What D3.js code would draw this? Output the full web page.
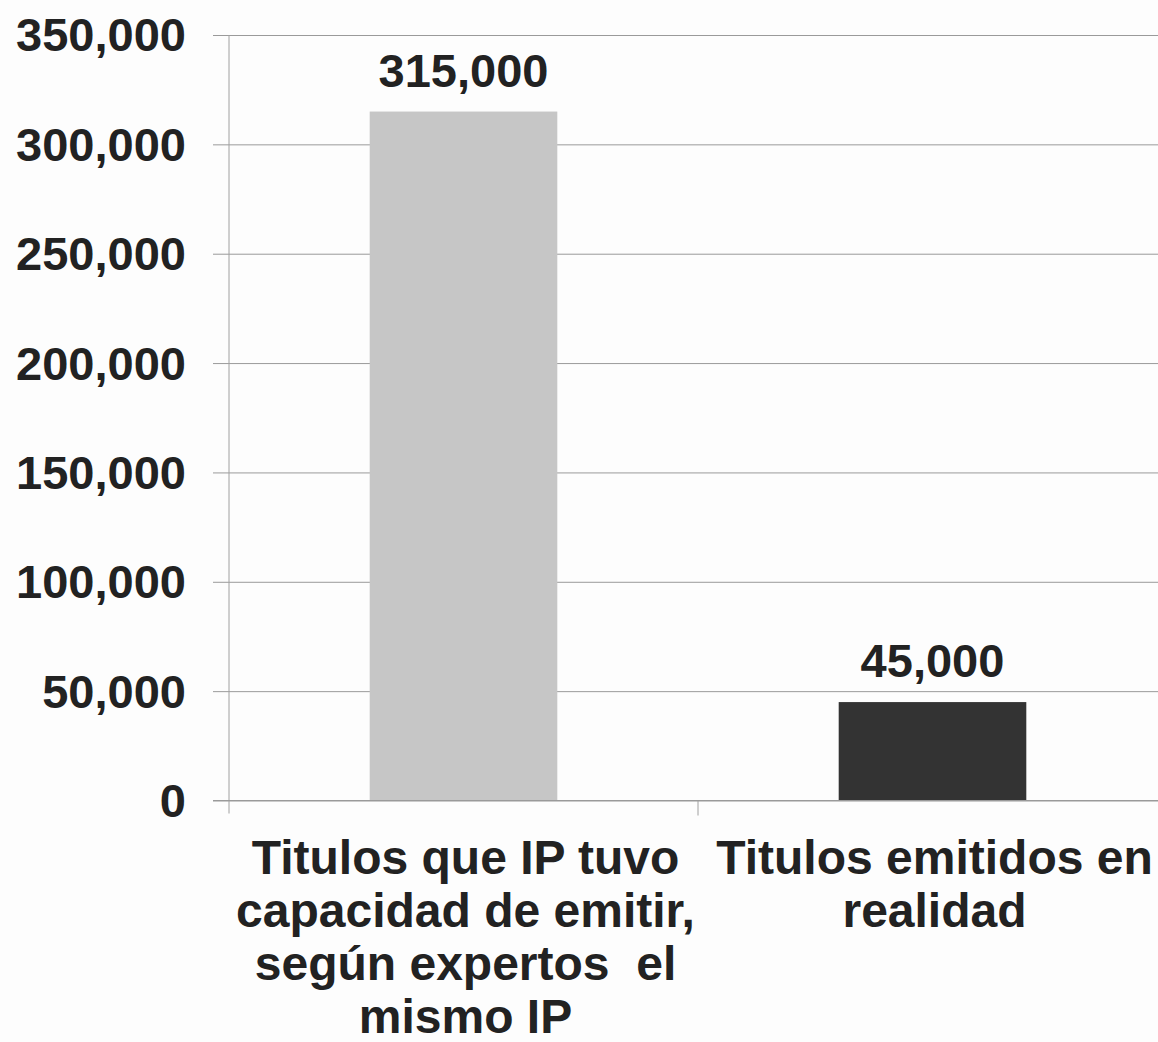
<!DOCTYPE html>
<html>
<head>
<meta charset="utf-8">
<script src="https://cdn.jsdelivr.net/npm/d3@7"></script>
<style>
  html, body { margin: 0; padding: 0; background: #fdfdfd; overflow: hidden; }
  svg { display: block; }
  text { font-family: "Liberation Sans", Arial, sans-serif; font-weight: bold; fill: #222; white-space: pre; }
</style>
</head>
<body>
<svg id="chart" width="1158" height="1042"></svg>
<script>
// ---- data ----
const categories = [
  ["Titulos que IP tuvo", "capacidad de emitir,", "según expertos  el", "mismo IP"],
  ["Titulos emitidos en", "realidad"]
];
const values = [315000, 45000];
const valueLabels = ["315,000", "45,000"];
const barColors = ["#c6c6c6", "#333333"];
const tickValues = [0, 50000, 100000, 150000, 200000, 250000, 300000, 350000];

// ---- layout ----
(function () {
const svg = d3.select("#chart");
const pL = 229, pR = 1167, pT = 35, pB = 800.5;

const x = d3.scaleBand().domain(d3.range(values.length))
  .range([pL, pR]).paddingInner(0.6).paddingOuter(0.3);
const xBand = d3.scaleBand().domain(d3.range(values.length)).range([pL, pR]).padding(0);
const y = d3.scaleLinear().domain([0, 350000]).range([pB, pT]);

// gridlines + ticks
const yAxis = d3.axisLeft(y).tickValues(tickValues)
  .tickSize(-(pR - pL)).tickFormat(d3.format(","));
const gy = svg.append("g").attr("transform", `translate(${pL},0)`).call(yAxis);
gy.select(".domain").remove();
gy.selectAll(".tick line").attr("stroke", "#9a9a9a").attr("stroke-width", 1)
  .attr("x1", -16);
gy.selectAll(".tick text").attr("x", -43).attr("dy", "0.34em")
  .style("font-size", "47px").style("font-family", "'Liberation Sans', Arial, sans-serif")
  .style("font-weight", "bold").attr("fill", "#222");

// y axis line (extends slightly below zero)
svg.append("line").attr("x1", pL).attr("x2", pL).attr("y1", pT).attr("y2", pB + 13)
  .attr("stroke", "#a0a0a0").attr("stroke-width", 1);

// category divider ticks
svg.selectAll(".divtick").data(d3.range(1, values.length)).enter().append("line")
  .attr("x1", d => xBand(d)).attr("x2", d => xBand(d))
  .attr("y1", pB).attr("y2", pB + 15)
  .attr("stroke", "#a0a0a0").attr("stroke-width", 1);

// bars
svg.selectAll(".bar").data(values).enter().append("rect")
  .attr("x", (d, i) => x(i)).attr("width", x.bandwidth())
  .attr("y", d => y(d)).attr("height", d => y(0) - y(d))
  .attr("fill", (d, i) => barColors[i]);

// zero line over bars
svg.append("line").attr("x1", pL - 16).attr("x2", pR).attr("y1", y(0)).attr("y2", y(0))
  .attr("stroke", "#9a9a9a").attr("stroke-width", 1);

// value labels
svg.selectAll(".val").data(values).enter().append("text")
  .attr("x", (d, i) => x(i) + x.bandwidth() / 2)
  .attr("y", d => y(d) - 25)
  .attr("text-anchor", "middle")
  .style("font-size", "47px")
  .text((d, i) => valueLabels[i]);

// category labels
categories.forEach((lines, i) => {
  const cx = xBand(i) + xBand.bandwidth() / 2 + 2;
  const t = svg.append("text").attr("text-anchor", "middle").style("font-size", "48px");
  lines.forEach((ln, j) => {
    t.append("tspan").attr("x", cx).attr("y", 874 + j * 53).text(ln);
  });
});
})();
</script>
</body>
</html>
